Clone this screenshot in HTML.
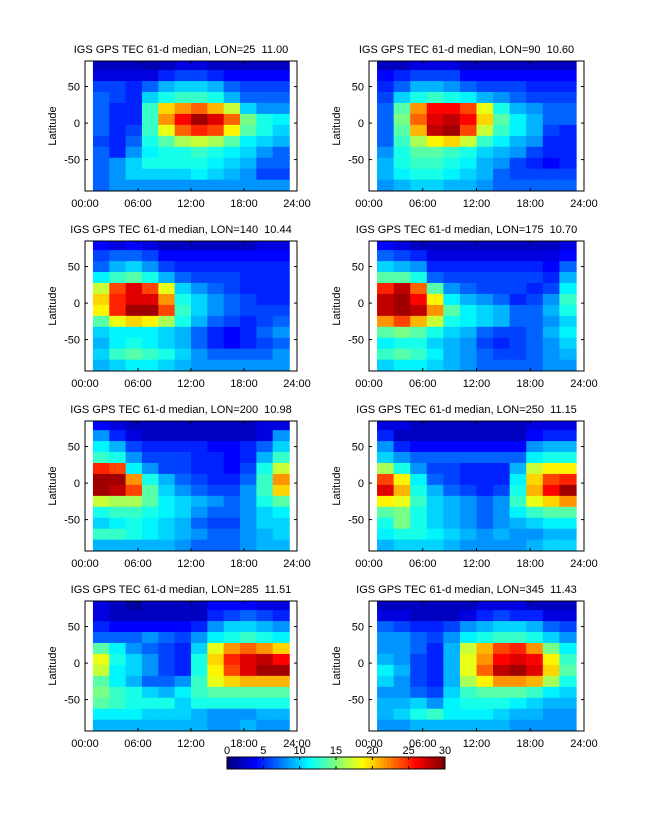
<!DOCTYPE html>
<html><head><meta charset="utf-8"><style>
body{margin:0;background:#fff}
svg text{font-family:"Liberation Sans",sans-serif;font-size:11px;fill:#000;white-space:pre}
</style></head><body>
<svg id="fig" width="647" height="822" viewBox="0 0 647 822" xmlns="http://www.w3.org/2000/svg"></svg>
<script>
const titles=["IGS GPS TEC 61-d median, LON=25  11.00","IGS GPS TEC 61-d median, LON=90  10.60","IGS GPS TEC 61-d median, LON=140  10.44","IGS GPS TEC 61-d median, LON=175  10.70","IGS GPS TEC 61-d median, LON=200  10.98","IGS GPS TEC 61-d median, LON=250  11.15","IGS GPS TEC 61-d median, LON=285  11.51","IGS GPS TEC 61-d median, LON=345  11.43"];
const hours=[1,3,5,7,9,11,13,15,17,19,21,23];
const lats=[80,65,50,35,20,5,-10,-25,-40,-55,-70,-85];
const xTickLabels=["00:00","06:00","12:00","18:00","24:00"];
const xTickHours=[0,6,12,18,24];
const yTicks=[50,0,-50];
const cbTicks=[0,5,10,15,20,25,30];
const p1=[[2,2,2,1.5,2,3,3,2,2,2,2,2],[3,3,3,3,5,6,6,5,4,4,4,4],[6,6,5,7,9,10,10,9,7,6,6,6],[7,6,5,10,12,13,13,12,9,7,7,7],[7,5,5,13,20,22,23,21,17,10,8,8],[7,5,5,13,22,26,29,27,23,15,12,11],[7,5,6,13,18,23,25,24,19,14,12,10],[6,5,7,12,14,16,17,16,14,11,10,9],[7,5,8,11,12,12,13,12,11,10,8,7],[7,8,10,12,12,12,12,11,10,9,7,7],[7,8,10,10,10,10,11,10,9,8,6,6],[7,8,8,8,8,8,8,8,8,8,8,8]];
const p2=[[2,2,3,3,3,2,2,2,2,2,2,2],[4,5,6,6,6,4,4,4,4,4,4,4],[5,7,9,9,8,7,6,6,6,5,5,5],[6,10,12,13,12,11,9,8,7,6,6,6],[7,14,22,26,26,24,18,12,9,8,7,7],[7,15,23,27,28,26,20,14,11,9,7,7],[7,14,21,28,29,24,17,13,11,9,6,5],[7,13,16,19,20,17,13,11,9,8,5,5],[8,12,14,14,13,12,10,9,8,6,5,5],[9,12,13,13,12,11,9,8,6,5,4,5],[9,11,12,12,11,10,9,7,6,6,6,6],[8,9,10,10,9,9,8,7,7,7,7,7]];
const p3=[[4,3,4,3,2,2,2,2,2,2,3,3],[6,7,7,6,4,4,4,4,4,4,4,4],[7,9,10,8,6,5,5,5,5,5,5,5],[11,13,14,12,9,7,6,6,6,5,5,5],[17,24,27,24,18,10,8,7,6,5,5,5],[20,25,27,27,22,12,10,8,7,6,5,5],[19,25,29,29,24,13,10,8,7,6,6,6],[14,18,20,19,16,12,9,7,6,5,6,7],[10,11,11,11,10,9,7,5,4,5,7,8],[9,11,12,11,10,9,7,5,4,5,6,7],[10,13,14,13,12,10,8,7,7,7,7,8],[9,10,11,11,10,9,8,8,8,8,8,8]];
const p4=[[4,3,2,2,2,2,2,2,2,2,2,3],[7,6,5,3,3,3,3,3,3,3,3,4],[10,9,8,5,5,5,5,5,5,5,4,7],[14,14,12,7,6,6,6,6,6,6,5,9],[25,28,23,14,8,7,6,6,6,5,6,11],[28,29,26,19,11,9,8,7,5,6,8,13],[28,29,28,22,14,11,10,9,7,7,9,12],[22,24,21,17,12,11,10,9,7,7,8,10],[14,15,14,12,10,9,7,6,6,7,9,11],[11,12,12,10,9,8,6,5,6,7,8,10],[13,14,13,11,9,8,7,6,6,7,8,9],[10,11,11,10,9,8,7,7,7,7,8,8]];
const p5=[[4,3,2,2,2,2,2,2,2,2,3,3],[8,5,3,2,2,2,2,2,2,2,3,8],[11,9,6,5,5,5,5,4,4,5,7,10],[13,12,8,6,6,6,5,5,4,5,9,13],[25,24,11,8,6,6,5,5,4,6,12,17],[29,29,22,12,9,7,6,5,5,7,13,22],[29,28,24,14,10,8,7,6,6,8,13,20],[17,16,16,14,11,10,9,8,7,8,12,14],[12,13,13,12,11,10,8,7,7,8,10,11],[10,11,12,11,10,9,7,6,6,8,10,10],[13,13,12,11,10,9,8,7,7,8,9,10],[9,9,9,9,9,8,7,7,7,8,9,9]];
const p6=[[3,3,2,2,2,2,2,2,2,3,3,3],[5,2,2,2,2,2,2,2,2,4,5,5],[8,5,4,4,4,4,4,4,4,8,9,9],[10,8,7,7,7,7,7,7,7,11,12,12],[16,12,8,6,6,5,5,5,9,17,19,19],[24,19,11,7,6,5,5,5,11,20,24,25],[27,21,12,9,7,6,5,6,12,21,26,29],[19,18,13,10,9,8,7,8,13,18,20,22],[14,15,12,10,9,8,7,8,11,13,14,14],[12,15,12,10,9,8,7,8,9,10,11,11],[11,12,12,11,10,9,8,9,8,8,9,9],[9,10,10,10,9,8,8,8,8,9,10,10]];
const p7=[[3,2,1,2,2,2,2,4,4,4,3,3],[3,2,2,2,2,2,2,5,6,7,6,5],[5,4,4,4,4,4,5,8,10,10,9,8],[7,7,7,8,7,6,8,11,12,13,12,11],[14,11,8,7,6,5,10,18,22,23,22,20],[18,12,10,8,6,5,12,20,25,27,28,26],[17,11,10,8,6,5,12,19,24,27,29,29],[14,11,9,7,7,8,13,18,20,21,21,21],[15,13,12,10,9,11,13,14,14,14,14,14],[14,13,12,12,12,10,12,12,12,12,12,12],[11,11,11,10,10,10,9,8,8,8,9,9],[9,9,9,9,9,9,9,8,8,9,8,8]];
const p8=[[2,2,2,2,2,2,3,3,3,2,2,2],[3,3,2,2,2,3,5,6,5,5,3,3],[7,6,5,5,6,8,9,10,10,9,7,6],[8,8,7,6,8,11,12,13,13,12,10,8],[8,8,7,5,9,17,21,24,25,22,15,11],[9,8,6,5,9,18,22,26,27,26,19,13],[11,9,6,5,9,18,23,28,29,27,20,14],[10,8,6,5,9,16,19,22,22,21,16,12],[8,8,7,6,10,13,14,14,14,13,11,10],[9,9,10,8,11,12,12,12,11,10,9,9],[9,10,12,13,11,11,11,10,9,9,8,8],[8,8,9,9,9,9,9,9,8,8,8,8]];
const panels=[p1,p2,p3,p4,p5,p6,p7,p8];

const NS="http://www.w3.org/2000/svg";
const svg=document.getElementById('fig');
function mk(tag,attrs,parent){const e=document.createElementNS(NS,tag);for(const k in attrs)e.setAttribute(k,attrs[k]);(parent||svg).appendChild(e);return e;}
function jet(v){let t=Math.max(0,Math.min(1,v/30));t=Math.floor(t*63.999)/63;
 const r=Math.max(0,Math.min(1,1.5-Math.abs(4*t-3))),g=Math.max(0,Math.min(1,1.5-Math.abs(4*t-2))),b=Math.max(0,Math.min(1,1.5-Math.abs(4*t-1)));
 return `rgb(${Math.round(r*255)},${Math.round(g*255)},${Math.round(b*255)})`;}

panels.forEach((data,pi)=>{
 const col=pi%2,row=Math.floor(pi/2);
 const x0=col?369:85,x1=col?584:297,top=61+180*row,bot=top+130;
 const pxh=(x1-x0)/24;
 const xs=h=>x0+h*pxh;
 // data grid spans 0.9h..23.1h (pcolor-like layout)
 const cellH=(23.1-0.9)/12;
 const hx=h=>0.9+(h-1)/2*cellH;
 const ys=lat=>top+(85-lat)*(130/178);
 const g=mk('g',{});
 
 
 const rowH=180/12;
 data.forEach((rowv,ri)=>rowv.forEach((v,ci)=>{
  const xa=xs(hx(hours[ci])), xb=xs(hx(hours[ci])+cellH);
  const yA=Math.max(top,ys(lats[ri]+rowH/2)), yB=Math.min(bot,ys(lats[ri]-rowH/2));
  const r=mk('rect',{x:xa.toFixed(2),y:yA.toFixed(2),width:(xb-xa+0.7).toFixed(2),height:(yB-yA+0.7).toFixed(2),fill:jet(v)},g);
  
  
 }));
 const box=mk('rect',{x:x0,y:top,width:x1-x0,height:130,fill:'none',stroke:'#000','stroke-width':1},g);
 
 
 xTickHours.forEach((h,i)=>{
  mk('line',{x1:xs(h),x2:xs(h),y1:bot,y2:bot-3,stroke:'#000'},g);
  mk('line',{x1:xs(h),x2:xs(h),y1:top,y2:top+3,stroke:'#000'},g);
  const t=mk('text',{x:xs(h),y:bot+16,'text-anchor':'middle'},g);t.textContent=xTickLabels[i];
  
  
 });
 yTicks.forEach(l=>{
  mk('line',{x1:x0,x2:x0+3,y1:ys(l),y2:ys(l),stroke:'#000'},g);
  mk('line',{x1:x1,x2:x1-3,y1:ys(l),y2:ys(l),stroke:'#000'},g);
  const t=mk('text',{x:x0-5,y:ys(l)+4,'text-anchor':'end'},g);t.textContent=l;
  
  
 });
 const yl=mk('text',{x:0,y:0,'text-anchor':'middle',transform:`translate(${x0-29},${top+65}) rotate(-90)`},g);yl.textContent='Latitude';
 
 
 const tt=mk('text',{x:(x0+x1)/2-10,y:top-8,'text-anchor':'middle','xml:space':'preserve'},g);tt.textContent=titles[pi];
 
 
});

// colorbar
const cb=mk('g',{});


const cx0=227,cx1=445,cy=757,ch=12;
const cs=v=>cx0+v*(cx1-cx0)/30;
for(let i=0;i<64;i++){const v=(i+0.5)*30/64;mk('rect',{x:cs(i*30/64),y:cy,width:(cx1-cx0)/64+0.5,height:ch,fill:jet(v)},cb);}
mk('rect',{x:cx0,y:cy,width:cx1-cx0,height:ch,fill:'none',stroke:'#000'},cb);
cbTicks.forEach(v=>{
 mk('line',{x1:cs(v),x2:cs(v),y1:cy,y2:cy+3,stroke:'#000'},cb);
 mk('line',{x1:cs(v),x2:cs(v),y1:cy+ch,y2:cy+ch-3,stroke:'#000'},cb);
 const t=mk('text',{x:cs(v),y:cy-3,'text-anchor':'middle'},cb);t.textContent=v;
 
 
});
</script>
</body></html>
